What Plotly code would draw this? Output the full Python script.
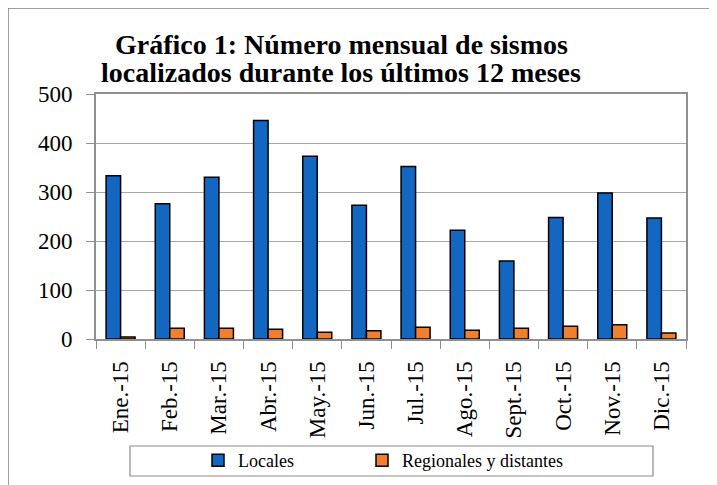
import plotly.graph_objects as go

meses = ["Ene.-15", "Feb.-15", "Mar.-15", "Abr.-15", "May.-15", "Jun.-15",
         "Jul.-15", "Ago.-15", "Sept.-15", "Oct.-15", "Nov.-15", "Dic.-15"]
locales = [333, 276, 330, 446, 373, 273, 352, 222, 159, 248, 298, 247]
regionales = [4, 22, 22, 20, 14, 17, 24, 18, 22, 26, 29, 12]
yticks = [0, 100, 200, 300, 400, 500]
titulo1 = "<b>Gráfico 1: Número mensual de sismos</b>"
titulo2 = "<b>localizados durante los últimos 12 meses</b>"

W, H = 717, 485
OFF = 8  # page offset of the figure inside the window
# plot area in window pixels: x 96..686, y 94..339
L, R, T, B = 96 - OFF, W - (686 - OFF), 94 - OFF, H - (339 - OFF)
pw, ph = W - L - R, H - T - B

def px_x(x):  # window px -> paper
    return (x - OFF - L) / pw

def px_y(y):
    return (H - B - (y - OFF)) / ph

font = "Liberation Serif, Times New Roman, serif"

fig = go.Figure()
fig.add_trace(go.Bar(x=meses, y=locales, name="Locales", legend="legend",
                     marker=dict(color="#1467c0", line=dict(color="#000000", width=1.5))))
fig.add_trace(go.Bar(x=meses, y=regionales, name="Regionales y distantes", legend="legend2",
                     marker=dict(color="#f07f2e", line=dict(color="#000000", width=1.5))))

leg_common = dict(orientation="h", xanchor="left", y=px_y(442), yanchor="top",
                  borderwidth=0, bgcolor="rgba(0,0,0,0)",
                  font=dict(family=font, size=18, color="#000000"), itemwidth=30)

fig.update_layout(
    width=W, height=H,
    margin=dict(l=L, r=R, t=T, b=B, autoexpand=False),
    paper_bgcolor="white", plot_bgcolor="white",
    barmode="group", bargap=0.41, bargroupgap=0,
    font=dict(family=font, color="#000000"),
    xaxis=dict(type="category", tickangle=-90, tickfont=dict(family=font, size=23),
               ticks="outside", tickson="boundaries", ticklen=8, tickcolor="#909090",
               ticklabelstandoff=11,
               showline=True, linecolor="#909090", linewidth=2, mirror=True,
               showgrid=False),
    yaxis=dict(range=[0, 500], tickvals=yticks, tickfont=dict(family=font, size=23),
               ticks="outside", ticklen=8, tickcolor="#909090",
               ticklabelstandoff=9,
               showline=True, linecolor="#909090", linewidth=2, mirror=True,
               showgrid=True, gridcolor="#a6a6a6", gridwidth=1, zeroline=False),
    legend=dict(x=px_x(198), **leg_common),
    legend2=dict(x=px_x(362), **leg_common),
    showlegend=True,
)

fig.add_annotation(text=titulo1, xref="paper", yref="paper", x=px_x(341), y=px_y(44),
                   xanchor="center", yanchor="middle", showarrow=False,
                   font=dict(family=font, size=28, color="#000000"))
fig.add_annotation(text=titulo2, xref="paper", yref="paper", x=px_x(341), y=px_y(72),
                   xanchor="center", yanchor="middle", showarrow=False,
                   font=dict(family=font, size=28, color="#000000"))

# legend frame
fig.add_shape(type="rect", xref="paper", yref="paper",
              x0=px_x(130), x1=px_x(653), y0=px_y(446), y1=px_y(476),
              line=dict(color="#8c8c8c", width=1.2), fillcolor="rgba(0,0,0,0)")
# outer chart border (left and top)
fig.add_shape(type="line", xref="paper", yref="paper",
              x0=px_x(8), x1=px_x(8), y0=px_y(8), y1=px_y(H + 10),
              line=dict(color="#808080", width=1.5))
fig.add_shape(type="line", xref="paper", yref="paper",
              x0=px_x(8), x1=px_x(W + 10), y0=px_y(8), y1=px_y(8),
              line=dict(color="#808080", width=1.5))

fig.write_html("out.html")
